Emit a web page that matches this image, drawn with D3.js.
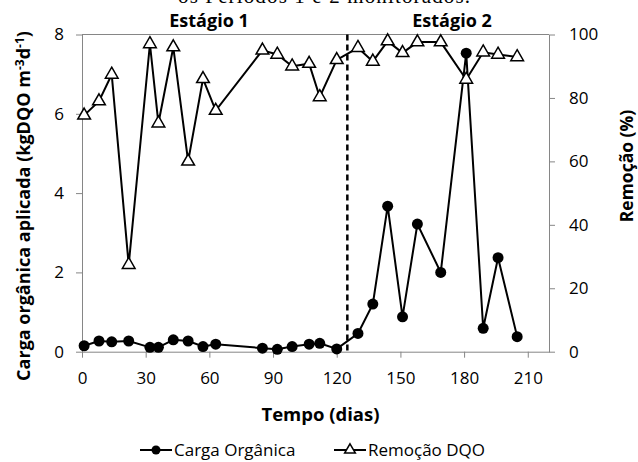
<!DOCTYPE html>
<html lang="pt">
<head>
<meta charset="UTF-8">
<title>Carga orgânica e remoção DQO</title>
<style>
  * { margin: 0; padding: 0; }
  body { background: #fff; }
  #chart-area { width: 638px; height: 462px; overflow: hidden; }
  text { font-family: "Open Sans", "Noto Sans", sans-serif; }
</style>
</head>
<body>
<div id="chart-area"></div>
<script src="https://cdn.jsdelivr.net/npm/d3@7/dist/d3.min.js"></script>
<script>
  // tempo (dias) de cada coleta
  const dias = [1, 8, 14, 22, 32, 36, 43, 50, 57, 63, 85, 92, 99, 107, 112, 120,
    130, 137, 144, 151, 158, 169, 181, 189, 196, 205]
  // carga orgânica aplicada (kgDQO m-3 d-1)
  const carga = [0.15, 0.27, 0.25, 0.27, 0.11, 0.11, 0.30, 0.27, 0.13, 0.19, 0.09, 0.06,
    0.13, 0.19, 0.21, 0.07, 0.46, 1.20, 3.67, 0.88, 3.22, 2.00, 7.53, 0.59, 2.37, 0.38]
  // remoção de DQO (%)
  const remocao = [74.5, 79, 87.4, 27.4, 97, 72, 96, 60, 86, 76, 95, 93.7,
    90, 90.8, 80.3, 92, 95.8, 91.5, 97.9, 94.2, 97.6, 97.6, 85.8, 94.4, 93.7, 92.9]

  const xTicks = [0, 30, 60, 90, 120, 150, 180, 210]
  const yLeftTicks = [0, 2, 4, 6, 8]
  const yRightTicks = [0, 20, 40, 60, 80, 100]
  const divisao = 125

  const W = 638, H = 462
  const MARGIN = {LEFT: 82, TOP: 34.5, RIGHT: 89, BOTTOM: 110.3}
  const WIDTH = W - MARGIN.LEFT - MARGIN.RIGHT
  const HEIGHT = H - MARGIN.TOP - MARGIN.BOTTOM

  const svg = d3.select('#chart-area').append('svg')
    .attr('width', W).attr('height', H)

  // legenda cortada do topo (texto da página original)
  svg.append('text')
    .attr('x', 324).attr('y', 3)
    .attr('text-anchor', 'middle')
    .style('font-family', '"Liberation Serif", serif')
    .attr('font-size', 21)
    .attr('textLength', 292).attr('lengthAdjust', 'spacing')
    .text('os Períodos 1 e 2 monitorados.')

  const g = svg.append('g').attr('transform', `translate(${MARGIN.LEFT}, ${MARGIN.TOP})`)

  const x = d3.scaleLinear().domain([0, 220]).range([0, WIDTH])
  const yL = d3.scaleLinear().domain([0, 8]).range([HEIGHT, 0])
  const yR = d3.scaleLinear().domain([0, 100]).range([HEIGHT, 0])

  const axisColor = '#868686'

  // borda superior
  g.append('line').attr('x1', 0).attr('x2', WIDTH).attr('y1', 0).attr('y2', 0)
    .attr('stroke', axisColor)

  const styleAxis = sel => {
    sel.selectAll('.domain').attr('stroke', axisColor)
    sel.selectAll('.tick line').attr('stroke', axisColor)
    sel.selectAll('.tick text').attr('fill', '#000').attr('font-size', 17)
      .style('font-family', '"Open Sans", sans-serif')
  }

  g.append('g').attr('transform', `translate(0, ${HEIGHT})`)
    .call(d3.axisBottom(x).tickValues(xTicks).tickSize(6).tickSizeOuter(0).tickPadding(14))
    .call(styleAxis)

  g.append('g')
    .call(d3.axisLeft(yL).tickValues(yLeftTicks).tickSize(6).tickSizeOuter(0).tickPadding(12))
    .call(styleAxis)

  g.append('g').attr('transform', `translate(${WIDTH}, 0)`)
    .call(d3.axisRight(yR).tickValues(yRightTicks).tickSize(6).tickSizeOuter(0).tickPadding(14))
    .call(styleAxis)

  // divisão entre estágios
  g.append('line')
    .attr('x1', x(divisao)).attr('x2', x(divisao))
    .attr('y1', 0).attr('y2', HEIGHT)
    .attr('stroke', '#000').attr('stroke-width', 2.5)
    .attr('stroke-dasharray', '6,4')

  g.append('text').attr('x', 127).attr('y', -7.5).attr('text-anchor', 'middle')
    .attr('font-size', 18).attr('font-weight', 'bold').text('Estágio 1')
  g.append('text').attr('x', 370).attr('y', -7.5).attr('text-anchor', 'middle')
    .attr('font-size', 18).attr('font-weight', 'bold').text('Estágio 2')

  // série carga orgânica
  const lineCarga = d3.line().x((d, i) => x(dias[i])).y(d => yL(d))
  g.append('path').datum(carga)
    .attr('d', lineCarga).attr('fill', 'none')
    .attr('stroke', '#000').attr('stroke-width', 2)
  g.selectAll('circle.carga').data(carga).join('circle')
    .attr('class', 'carga')
    .attr('cx', (d, i) => x(dias[i])).attr('cy', d => yL(d))
    .attr('r', 5.5).attr('fill', '#000')

  // série remoção DQO
  const lineRem = d3.line().x((d, i) => x(dias[i])).y(d => yR(d))
  g.append('path').datum(remocao)
    .attr('d', lineRem).attr('fill', 'none')
    .attr('stroke', '#000').attr('stroke-width', 2)
  const tri = d3.symbol().type(d3.symbolTriangle).size(70)
  g.selectAll('path.rem').data(remocao).join('path')
    .attr('class', 'rem')
    .attr('d', tri)
    .attr('transform', (d, i) => `translate(${x(dias[i])}, ${yR(d)})`)
    .attr('fill', '#fff').attr('stroke', '#000').attr('stroke-width', 1.5)

  // títulos dos eixos
  svg.append('text')
    .attr('x', MARGIN.LEFT + WIDTH / 2 + 5).attr('y', 421)
    .attr('text-anchor', 'middle').attr('font-size', 18.5).attr('font-weight', 'bold')
    .text('Tempo (dias)')

  const yl = svg.append('text')
    .attr('transform', `translate(30, 206) rotate(-90)`)
    .attr('text-anchor', 'middle').attr('font-size', 18).attr('font-weight', 'bold')
  yl.append('tspan').text('Carga orgânica aplicada (kgDQO m')
  yl.append('tspan').attr('font-size', 12).attr('dy', -6).text('-3')
  yl.append('tspan').attr('dy', 6).text('d')
  yl.append('tspan').attr('font-size', 12).attr('dy', -6).text('-1')
  yl.append('tspan').attr('dy', 6).text(')')

  svg.append('text')
    .attr('transform', `translate(633, 166) rotate(-90)`)
    .attr('text-anchor', 'middle').attr('font-size', 17.5).attr('font-weight', 'bold')
    .text('Remoção (%)')

  // legenda
  const leg = svg.append('g').attr('transform', 'translate(0, 450)')
  leg.append('line').attr('x1', 140).attr('x2', 172).attr('stroke', '#000').attr('stroke-width', 2)
  leg.append('circle').attr('cx', 156).attr('r', 4.5).attr('fill', '#000')
  leg.append('text').attr('x', 174).attr('y', 6).attr('font-size', 17).text('Carga Orgânica')
  leg.append('line').attr('x1', 334).attr('x2', 366).attr('stroke', '#000').attr('stroke-width', 2)
  leg.append('path').attr('d', d3.symbol().type(d3.symbolTriangle).size(50))
    .attr('transform', 'translate(350, 0)')
    .attr('fill', '#fff').attr('stroke', '#000').attr('stroke-width', 1.5)
  leg.append('text').attr('x', 368).attr('y', 6).attr('font-size', 17).text('Remoção DQO')
</script>
</body>
</html>
